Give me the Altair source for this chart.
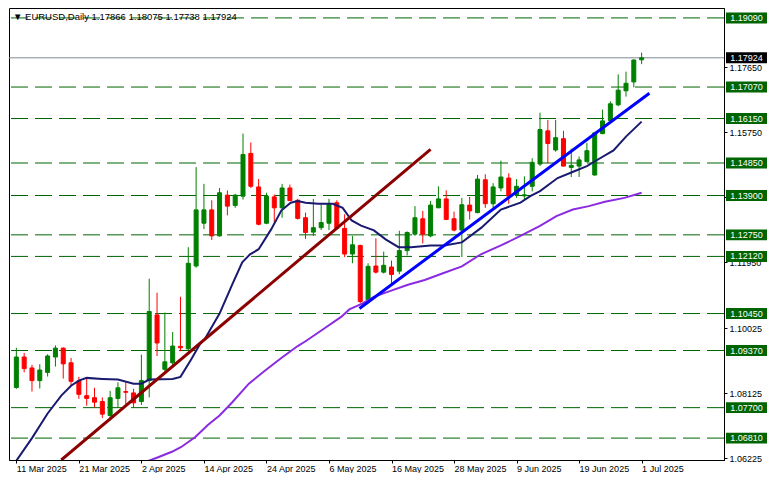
import altair as alt
import pandas as pd

# ---------------- data ----------------
OPEN = [1.0829, 1.0918, 1.0886, 1.0849, 1.0873, 1.0918, 1.0944, 1.0901, 1.0848, 1.0805,
        1.0799, 1.0788, 1.0747, 1.0797, 1.0817, 1.0813, 1.0788, 1.0849, 1.1041, 1.0882,
        1.0901, 1.0949, 1.0942, 1.1184, 1.1309, 1.1348, 1.1272, 1.1391, 1.1361, 1.1388,
        1.1513, 1.1415, 1.1309, 1.1386, 1.1354, 1.1412, 1.1376, 1.1325, 1.1283, 1.1296,
        1.1309, 1.1369, 1.1294, 1.1219, 1.1244, 1.1085, 1.1184, 1.1166, 1.1181, 1.1169,
        1.1229, 1.1277, 1.1322, 1.1272, 1.1354, 1.1380, 1.1322, 1.1289, 1.1362, 1.1340,
        1.1436, 1.1366, 1.1412, 1.1441, 1.1393, 1.1389, 1.1417, 1.1482, 1.1579, 1.1523,
        1.1556, 1.1472, 1.1476, 1.1489, 1.1450, 1.1571, 1.1609, 1.1655, 1.1696, 1.1722,
        1.17866]
HIGH = [1.0945, 1.0930, 1.0895, 1.0897, 1.0926, 1.0952, 1.0946, 1.0915, 1.0860, 1.0858,
        1.0828, 1.0800, 1.0819, 1.0844, 1.0844, 1.0825, 1.0925, 1.1147, 1.1106, 1.1048,
        1.0991, 1.1094, 1.1239, 1.1473, 1.1424, 1.1376, 1.1412, 1.1405, 1.1395, 1.1571,
        1.1545, 1.1438, 1.1398, 1.1393, 1.1424, 1.1422, 1.1380, 1.1340, 1.1380, 1.1364,
        1.1380, 1.1376, 1.1335, 1.1272, 1.1246, 1.1192, 1.1265, 1.1226, 1.1200, 1.1287,
        1.1285, 1.1359, 1.1345, 1.1374, 1.1417, 1.1405, 1.1343, 1.1383, 1.1386, 1.1450,
        1.1452, 1.1426, 1.1492, 1.1455, 1.1438, 1.1446, 1.1499, 1.1632, 1.1611, 1.1611,
        1.1579, 1.1527, 1.1504, 1.1544, 1.1576, 1.1641, 1.1665, 1.1744, 1.1752, 1.1788,
        1.18075]
LOW = [1.0825, 1.0873, 1.0817, 1.0826, 1.0861, 1.0890, 1.0855, 1.0834, 1.0796, 1.0776,
       1.0771, 1.0740, 1.0733, 1.0769, 1.0780, 1.0769, 1.0778, 1.0800, 1.0921, 1.0876,
       1.0892, 1.0935, 1.0935, 1.1179, 1.1292, 1.1260, 1.1270, 1.1332, 1.1354, 1.1378,
       1.1412, 1.1303, 1.1306, 1.1311, 1.1325, 1.1374, 1.1320, 1.1263, 1.1272, 1.1289,
       1.1289, 1.1289, 1.1210, 1.1192, 1.1075, 1.1075, 1.1162, 1.1162, 1.1133, 1.1160,
       1.1215, 1.1272, 1.1250, 1.1268, 1.1354, 1.1318, 1.1285, 1.1210, 1.1320, 1.1338,
       1.1354, 1.1354, 1.1402, 1.1366, 1.1383, 1.1378, 1.1402, 1.1476, 1.1484, 1.1518,
       1.1475, 1.1444, 1.1444, 1.1487, 1.1448, 1.1569, 1.1608, 1.1651, 1.1679, 1.1706,
       1.17738]
CLOSE = [1.0918, 1.0884, 1.0849, 1.0880, 1.0921, 1.0944, 1.0898, 1.0847, 1.0809, 1.0797,
         1.0786, 1.0751, 1.0799, 1.0828, 1.0815, 1.0784, 1.0849, 1.1051, 1.0959, 1.0904,
         1.0950, 1.0945, 1.1192, 1.1348, 1.1348, 1.1272, 1.1398, 1.1359, 1.1391, 1.1510,
         1.1417, 1.1306, 1.1388, 1.1354, 1.1412, 1.1375, 1.1323, 1.1282, 1.1296, 1.1311,
         1.1364, 1.1294, 1.1219, 1.1246, 1.1080, 1.1183, 1.1166, 1.1186, 1.1159, 1.1229,
         1.1282, 1.1325, 1.1277, 1.1362, 1.1380, 1.1320, 1.1289, 1.1363, 1.1345, 1.1438,
         1.1366, 1.1415, 1.1444, 1.1388, 1.1417, 1.1392, 1.1487, 1.1583, 1.1542, 1.1559,
         1.1476, 1.1478, 1.1494, 1.1521, 1.1573, 1.1608, 1.1658, 1.1698, 1.1718, 1.1786,
         1.17924]

TICK_LABELS = ["11 Mar 2025", "21 Mar 2025", "2 Apr 2025", "14 Apr 2025", "24 Apr 2025",
               "6 May 2025", "16 May 2025", "28 May 2025", "9 Jun 2025", "19 Jun 2025",
               "1 Jul 2025"]
TICK_BARS = [0, 8, 16, 24, 32, 40, 48, 56, 64, 72, 80]

LEVELS = [1.19090, 1.17070, 1.16150, 1.14850, 1.13900, 1.12750, 1.12120,
          1.10450, 1.09370, 1.07700, 1.06810]
PRICE_TICKS = [1.18600, 1.17650, 1.16700, 1.15750, 1.14800, 1.13850, 1.12900,
               1.11950, 1.10975, 1.10025, 1.09075, 1.08125, 1.07175, 1.06225]
LAST_PRICE = 1.17924
TITLE = "\u25bc EURUSD,Daily  1.17866 1.18075 1.17738 1.17924"

MA_FAST_BAR = [0, 2, 4, 5.75, 7, 8, 9, 11, 13, 15, 16, 17, 20, 21, 22.4, 23.5, 24.1, 26,
               27.6, 28.9, 29.9, 31, 32.6, 33.9, 35.1, 36, 37, 38.6, 40.5, 41.1, 41.75,
               42.9, 44.1, 45.75, 47.25, 48.9, 50.5, 53, 54.75, 57, 59.5, 62, 64.5,
               65.75, 67, 69.25, 71.4, 73, 74.25, 76.4, 78, 80]
MA_FAST_VAL = [1.0615, 1.0681, 1.0753, 1.0805, 1.0834, 1.0849, 1.0857, 1.0854, 1.0852,
               1.0840, 1.0840, 1.0852, 1.0854, 1.0860, 1.0912, 1.0956, 1.0970, 1.1045,
               1.1129, 1.1195, 1.1218, 1.1233, 1.1291, 1.1346, 1.1369, 1.1374, 1.1369,
               1.1366, 1.1366, 1.1360, 1.1354, 1.1317, 1.1302, 1.1288, 1.1262, 1.1239,
               1.1239, 1.1244, 1.1244, 1.1253, 1.1296, 1.1349, 1.1369, 1.1388, 1.1403,
               1.1441, 1.1461, 1.1476, 1.1493, 1.1522, 1.1562, 1.1606]

MA_SLOW_BAR = [16.6, 17.9, 19.9, 21.1, 22.9, 24.5, 26, 27.6, 29.75, 31.75, 33.9, 36, 37,
               39.25, 41.6, 42.6, 44.25, 45.75, 47.6, 50.1, 52.25, 54.5, 57, 59.5,
               62, 64.5, 67, 69.1, 71.2, 73.25, 75.3, 77.8, 80]
MA_SLOW_VAL = [1.0612, 1.0623, 1.0641, 1.0655, 1.0684, 1.0719, 1.0747, 1.0785, 1.0840,
               1.0877, 1.0915, 1.0950, 1.0964, 1.0999, 1.1036, 1.1057, 1.1074, 1.1094,
               1.1109, 1.1129, 1.1143, 1.1162, 1.1183, 1.1219, 1.1244, 1.1272, 1.1301,
               1.1330, 1.1349, 1.1359, 1.1372, 1.1383, 1.1398]

TREND_RED_BAR = [5.75, 53.0]
TREND_RED_VAL = [1.0617, 1.1525]
TREND_BLUE_BAR = [43.9, 81.0]
TREND_BLUE_VAL = [1.1060, 1.1689]

# ---------------- chart ----------------
W, H = 715, 452
FONT = "Liberation Sans"
FS = 9

candles = pd.DataFrame({"i": list(range(len(OPEN))), "o": OPEN, "h": HIGH,
                        "l": LOW, "c": CLOSE})
candles["dir"] = ["up" if c >= o else "down" for o, c in zip(OPEN, CLOSE)]

xscale = alt.Scale(domain=[-0.3, 89.9], nice=False, zero=False)
yscale = alt.Scale(domain=[1.0617, 1.1938], nice=False, zero=False)
label_arr = "[" + ",".join("'%s'" % s for s in TICK_LABELS) + "]"
xaxis = alt.Axis(values=TICK_BARS, labelExpr=label_arr + "[round(datum.value/8)]",
                 labelAlign="left", labelFlush=False, labelOverlap=False, tickSize=3,
                 labelPadding=1, grid=False, domainColor="black",
                 tickColor="black", labelColor="black", labelFont=FONT, labelFontSize=FS)
yaxis = alt.Axis(values=PRICE_TICKS, format=".5f", orient="right", labelOverlap=False,
                 tickSize=3, labelPadding=2, grid=False, domainColor="black",
                 tickColor="black", labelColor="black", labelFont=FONT, labelFontSize=FS,
                 labelFlush=False)
dir_scale = alt.Scale(domain=["up", "down"], range=["#008000", "#ff0000"])
color = alt.Color("dir:N", scale=dir_scale, legend=None)

X = alt.X("i:Q", scale=xscale, axis=xaxis, title=None)
Xn = alt.X("i:Q", scale=xscale, title=None)

levels_df = pd.DataFrame({"p": LEVELS})
level_lines = alt.Chart(levels_df).mark_rule(color="#006400", strokeWidth=1,
                                             strokeDash=[17, 7]).encode(
    y=alt.Y("p:Q", scale=yscale, axis=yaxis, title=None))

last_df = pd.DataFrame({"p": [LAST_PRICE]})
last_line = alt.Chart(last_df).mark_rule(color="#7f8a96", strokeWidth=1).encode(
    y=alt.Y("p:Q", scale=yscale, title=None))

wicks = alt.Chart(candles).mark_rule(strokeWidth=1).encode(
    x=X, y=alt.Y("l:Q", scale=yscale, title=None), y2="h:Q", color=color)
bodies = alt.Chart(candles).mark_bar(size=4, strokeWidth=1).encode(
    x=Xn, y=alt.Y("o:Q", scale=yscale, title=None), y2="c:Q", color=color,
    stroke=alt.Stroke("dir:N", scale=dir_scale, legend=None))

fast = alt.Chart(pd.DataFrame({"i": MA_FAST_BAR, "p": MA_FAST_VAL})).mark_line(
    color="#191970", strokeWidth=2, clip=True).encode(
    x=Xn, y=alt.Y("p:Q", scale=yscale, title=None), order="i:Q")
slow = alt.Chart(pd.DataFrame({"i": MA_SLOW_BAR, "p": MA_SLOW_VAL})).mark_line(
    color="#8a2be2", strokeWidth=2, clip=True).encode(
    x=Xn, y=alt.Y("p:Q", scale=yscale, title=None), order="i:Q")
red = alt.Chart(pd.DataFrame({"i": TREND_RED_BAR, "p": TREND_RED_VAL})).mark_line(
    color="#8b0000", strokeWidth=3, clip=True).encode(
    x=Xn, y=alt.Y("p:Q", scale=yscale, title=None))
blue = alt.Chart(pd.DataFrame({"i": TREND_BLUE_BAR, "p": TREND_BLUE_VAL})).mark_line(
    color="#0000ff", strokeWidth=3, clip=True).encode(
    x=Xn, y=alt.Y("p:Q", scale=yscale, title=None))

box_half = 0.0016
level_boxes = alt.Chart(levels_df).transform_calculate(
    lo="datum.p - %f" % box_half, hi="datum.p + %f" % box_half).mark_rect(
    color="#006400").encode(
    x=alt.value(W + 2), x2=alt.value(W + 43),
    y=alt.Y("lo:Q", scale=yscale, title=None), y2="hi:Q")
level_text = alt.Chart(levels_df).transform_calculate(
    label="format(datum.p, '.5f')").mark_text(
    color="white", font=FONT, fontSize=FS, align="center", baseline="middle").encode(
    x=alt.value(W + 22.5), y=alt.Y("p:Q", scale=yscale, title=None), text="label:N")

last_box = alt.Chart(last_df).transform_calculate(
    lo="datum.p - %f" % box_half, hi="datum.p + %f" % box_half).mark_rect(
    color="black").encode(
    x=alt.value(W + 2), x2=alt.value(W + 43),
    y=alt.Y("lo:Q", scale=yscale, title=None), y2="hi:Q")
last_text = alt.Chart(last_df).transform_calculate(
    label="format(datum.p, '.5f')").mark_text(
    color="white", font=FONT, fontSize=FS, align="center", baseline="middle").encode(
    x=alt.value(W + 22.5), y=alt.Y("p:Q", scale=yscale, title=None), text="label:N")

title = alt.Chart(pd.DataFrame({"t": [TITLE]})).mark_text(
    align="left", baseline="middle", font=FONT, fontSize=9.5, color="black").encode(
    x=alt.value(4), y=alt.value(9), text="t:N")

chart = alt.layer(
    level_lines, last_line, wicks, bodies, fast, slow, red, blue,
    level_boxes, level_text, last_box, last_text, title
).properties(width=W, height=H, padding=0, background="white").configure_view(
    stroke="black", strokeWidth=1).configure_axis(domainWidth=1)

chart.save("out.html", embed_options={"renderer": "svg", "actions": False})
